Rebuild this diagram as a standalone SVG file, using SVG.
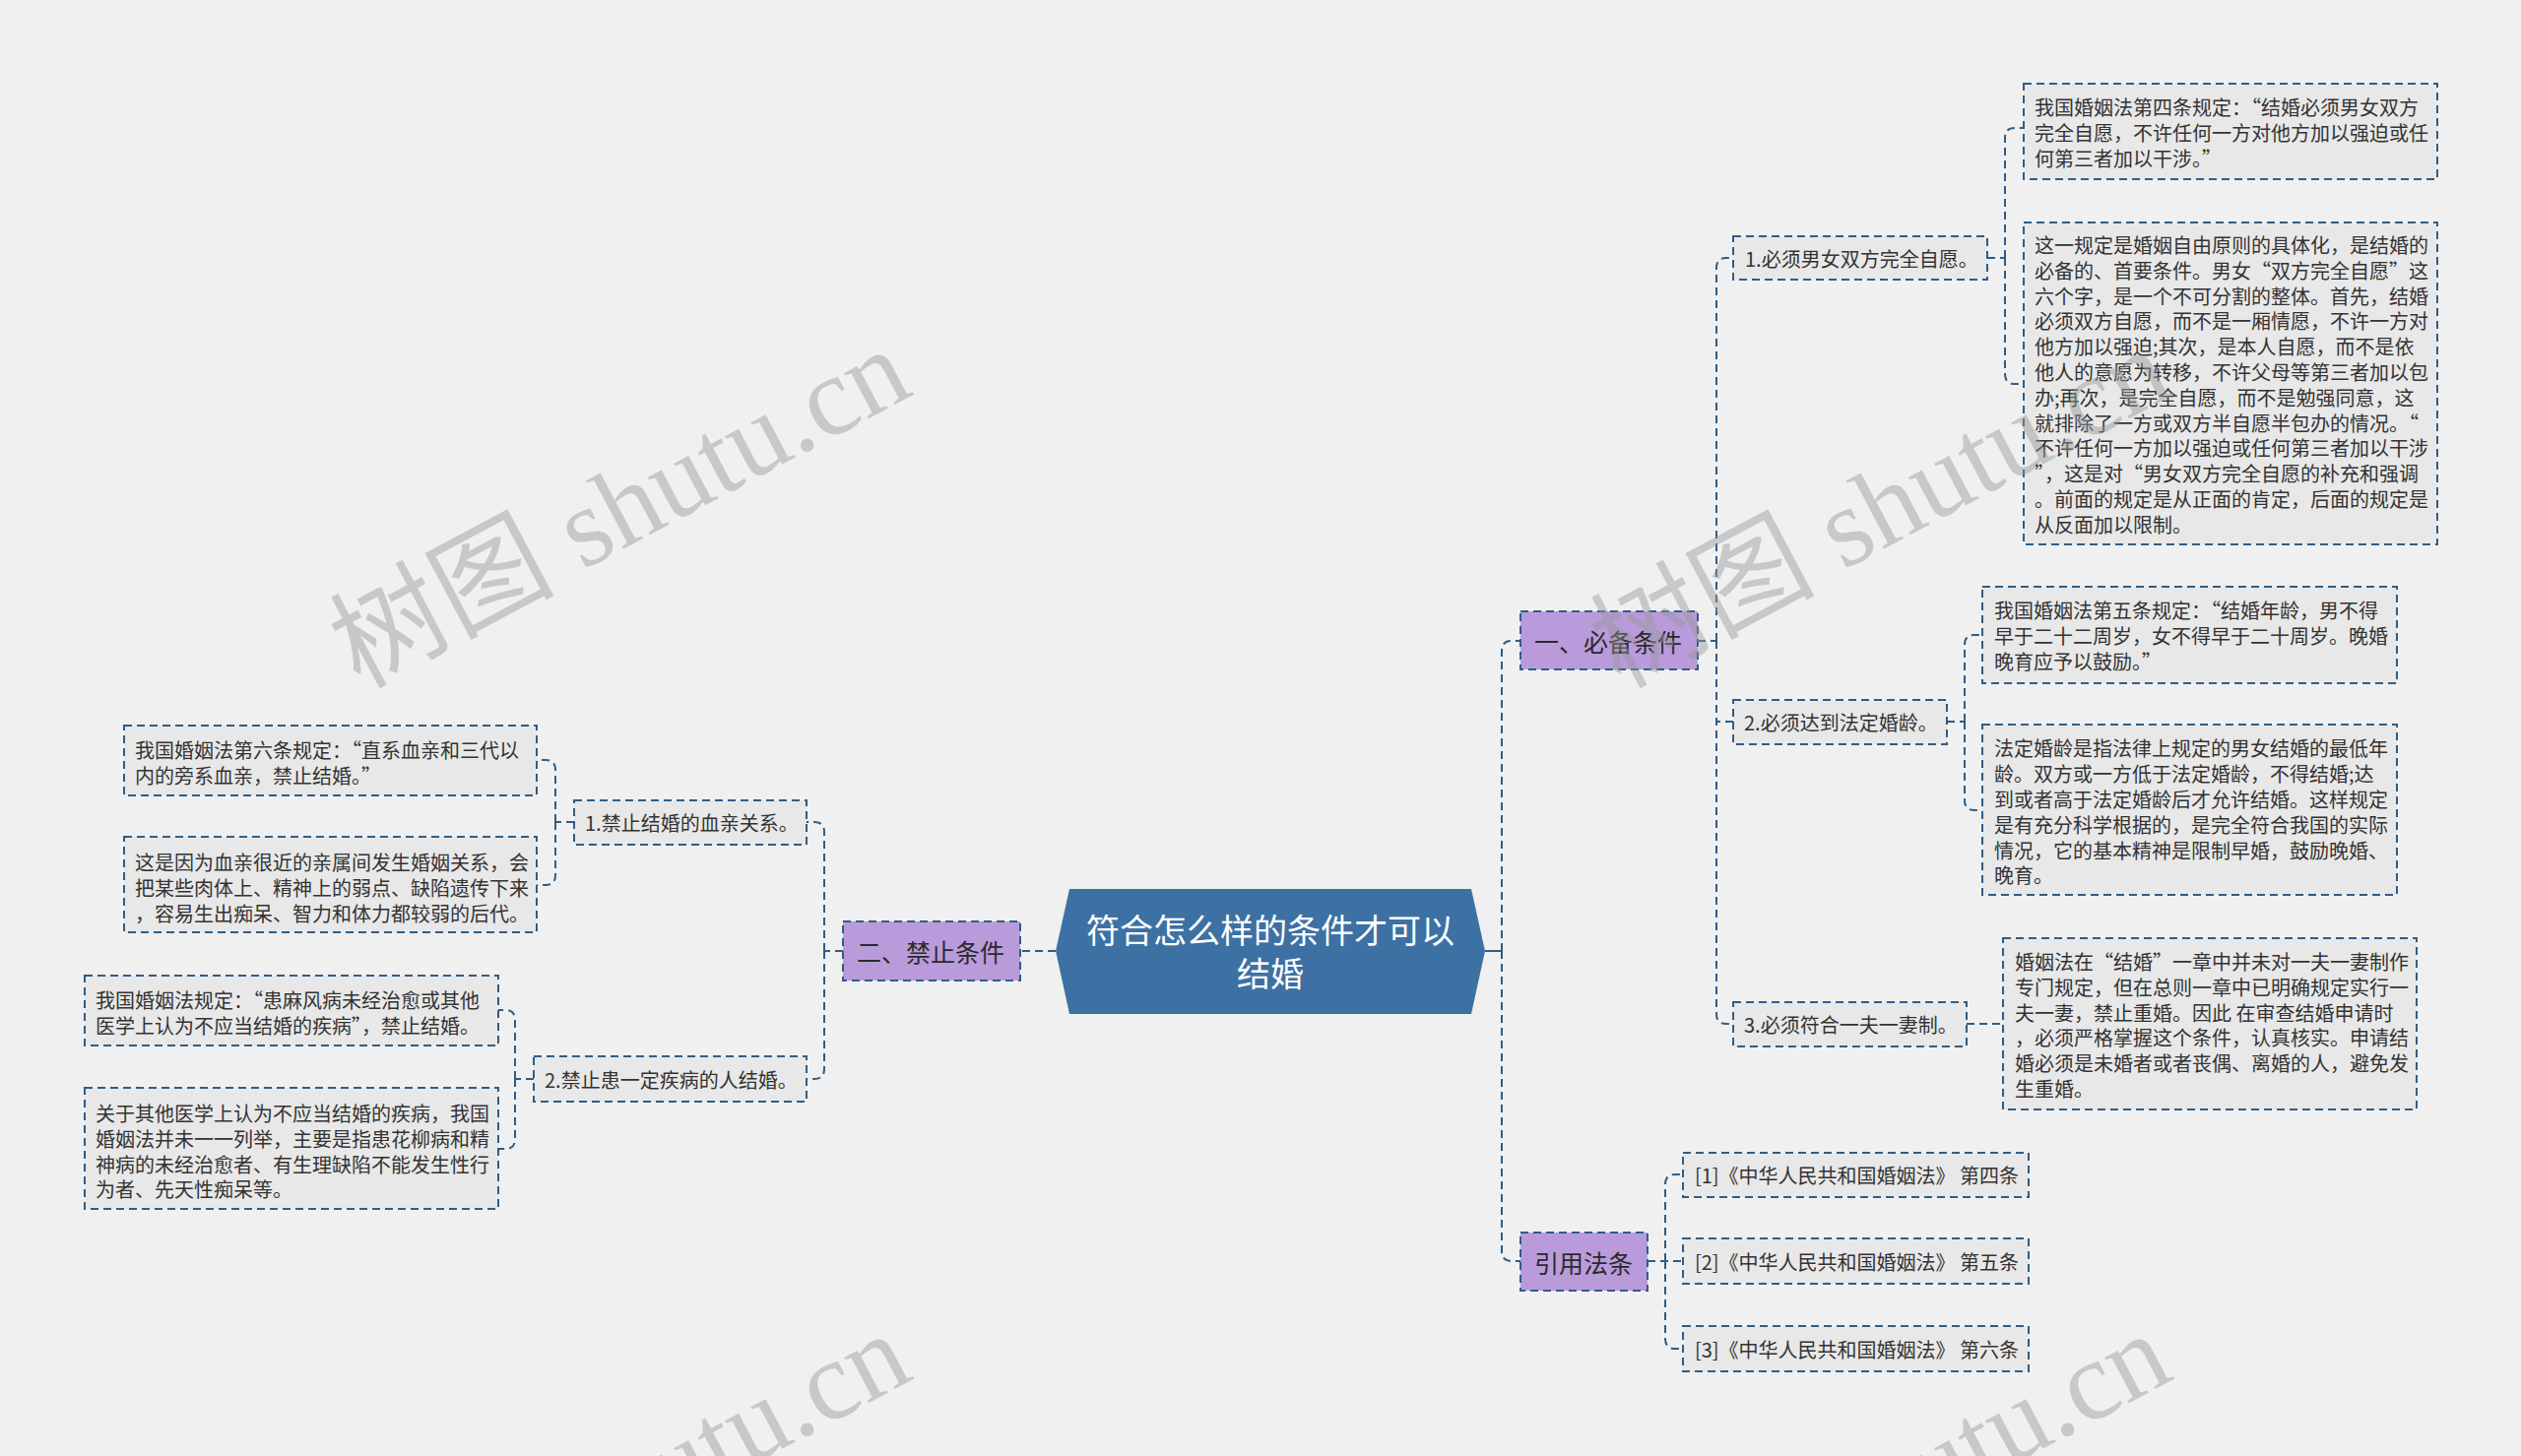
<svg xmlns="http://www.w3.org/2000/svg" width="2560" height="1479" viewBox="0 0 2560 1479">
<style>
.bg{fill:#f0f0f0}
.conn{fill:none;stroke:#2f5d85;stroke-width:2;stroke-dasharray:8 5}
.box{fill:#e8e8e8;stroke:#2f5d85;stroke-width:2;stroke-dasharray:8 5}
.cat{fill:#b99bdb;stroke:#2f5d85;stroke-width:2;stroke-dasharray:8 5}
.t{font-family:"Noto Sans CJK SC","Microsoft YaHei",sans-serif;font-size:20px;fill:#333333}
.ct{font-family:"Noto Sans CJK SC","Microsoft YaHei",sans-serif;font-size:25px;fill:#2a2a2a}
.mt{font-family:"Noto Sans CJK SC","Microsoft YaHei",sans-serif;font-size:34px;fill:#ffffff}
.wm{font-family:"Liberation Serif","Noto Sans CJK SC",serif;font-size:114px;fill:#969696;fill-opacity:0.45}
</style>
<rect class="bg" x="0" y="0" width="2560" height="1479"/>

<g id="connectors">
<!-- right side -->
<path class="conn" style="stroke-dasharray:none" d="M1508,966 H1525"/>
<path class="conn" d="M1525,966 V661 Q1525,651 1535,651 H1544"/>
<path class="conn" d="M1525,966 V1271 Q1525,1281 1535,1281 H1544"/>
<path class="conn" d="M1724,651 H1743"/>
<path class="conn" d="M1743,651 V272 Q1743,262 1753,262 H1760"/>
<path class="conn" d="M1743,651 V733 H1760"/>
<path class="conn" d="M1743,651 V1030 Q1743,1040 1753,1040 H1760"/>
<path class="conn" d="M2018,262 H2036"/>
<path class="conn" d="M2036,262 V140 Q2036,130 2046,130 H2055"/>
<path class="conn" d="M2036,262 V380 Q2036,390 2046,390 H2055"/>
<path class="conn" d="M1977,733 H1995"/>
<path class="conn" d="M1995,733 V655 Q1995,645 2005,645 H2013"/>
<path class="conn" d="M1995,733 V813 Q1995,823 2005,823 H2013"/>
<path class="conn" d="M1997,1040 H2034"/>
<path class="conn" d="M1673,1281 H1709"/>
<path class="conn" d="M1691,1281 V1203 Q1691,1193 1701,1193 H1709"/>
<path class="conn" d="M1691,1281 V1360 Q1691,1370 1701,1370 H1709"/>
<!-- left side -->
<path class="conn" d="M1072,966 H1036"/>
<path class="conn" d="M856,966 H837"/>
<path class="conn" d="M837,966 V845 Q837,835 827,835 H819"/>
<path class="conn" d="M837,966 V1086 Q837,1096 827,1096 H819"/>
<path class="conn" d="M583,835 H564"/>
<path class="conn" d="M564,835 V782 Q564,772 554,772 H545"/>
<path class="conn" d="M564,835 V889 Q564,899 554,899 H545"/>
<path class="conn" d="M542,1096 H523"/>
<path class="conn" d="M523,1096 V1036 Q523,1026 513,1026 H506"/>
<path class="conn" d="M523,1096 V1157 Q523,1167 513,1167 H506"/>
</g>

<g id="root">
<polygon points="1086,903 1494,903 1508,966 1494,1030 1086,1030 1072,966" fill="#3d71a3"/>
<text class="mt" text-anchor="middle" dominant-baseline="central"><tspan x="1290" y="943">符合怎么样的条件才可以</tspan><tspan x="1290" y="987">结婚</tspan></text>
</g>

<g id="n-bibei">
<rect class="cat" x="1544" y="621" width="180" height="59"/>
<text class="ct" x="1558" y="651" dominant-baseline="central">一、必备条件</text>
</g>
<g id="n-yinyong">
<rect class="cat" x="1544" y="1252" width="129" height="59"/>
<text class="ct" x="1558" y="1282" dominant-baseline="central">引用法条</text>
</g>
<g id="n-jinzhi">
<rect class="cat" x="856" y="936" width="180" height="60"/>
<text class="ct" x="870" y="966" dominant-baseline="central">二、禁止条件</text>
</g>

<g id="n-r1">
<rect class="box" x="1760" y="240" width="258" height="44"/>
<text class="t" x="1772" y="262" dominant-baseline="central">1.必须男女双方完全自愿。</text>
</g>
<g id="n-r2">
<rect class="box" x="1760" y="711" width="217" height="45"/>
<text class="t" x="1771" y="733" dominant-baseline="central">2.必须达到法定婚龄。</text>
</g>
<g id="n-r3">
<rect class="box" x="1760" y="1018" width="237" height="45"/>
<text class="t" x="1771" y="1040" dominant-baseline="central">3.必须符合一夫一妻制。</text>
</g>

<g id="n-r1a">
<rect class="box" x="2055" y="85" width="420" height="97"/>
<text class="t" dominant-baseline="central"><tspan x="2066" y="108">我国婚姻法第四条规定：“结婚必须男女双方</tspan><tspan x="2066" y="134">完全自愿，不许任何一方对他方加以强迫或任</tspan><tspan x="2066" y="160">何第三者加以干涉。”</tspan></text>
</g>
<g id="n-r1b">
<rect class="box" x="2055" y="226" width="420" height="327"/>
<text class="t" dominant-baseline="central"><tspan x="2066" y="248">这一规定是婚姻自由原则的具体化，是结婚的</tspan><tspan x="2066" y="274">必备的、首要条件。男女“双方完全自愿”这</tspan><tspan x="2066" y="300">六个字，是一个不可分割的整体。首先，结婚</tspan><tspan x="2066" y="325">必须双方自愿，而不是一厢情愿，不许一方对</tspan><tspan x="2066" y="351">他方加以强迫;其次，是本人自愿，而不是依</tspan><tspan x="2066" y="377">他人的意愿为转移，不许父母等第三者加以包</tspan><tspan x="2066" y="403">办;再次，是完全自愿，而不是勉强同意，这</tspan><tspan x="2066" y="429">就排除了一方或双方半自愿半包办的情况。“</tspan><tspan x="2066" y="454">不许任何一方加以强迫或任何第三者加以干涉</tspan><tspan x="2066" y="480">”，这是对“男女双方完全自愿的补充和强调</tspan><tspan x="2066" y="506">。前面的规定是从正面的肯定，后面的规定是</tspan><tspan x="2066" y="532">从反面加以限制。</tspan></text>
</g>
<g id="n-r2a">
<rect class="box" x="2013" y="596" width="421" height="98"/>
<text class="t" dominant-baseline="central"><tspan x="2025" y="619">我国婚姻法第五条规定：“结婚年龄，男不得</tspan><tspan x="2025" y="645">早于二十二周岁，女不得早于二十周岁。晚婚</tspan><tspan x="2025" y="671">晚育应予以鼓励。”</tspan></text>
</g>
<g id="n-r2b">
<rect class="box" x="2013" y="736" width="421" height="173"/>
<text class="t" dominant-baseline="central"><tspan x="2025" y="759">法定婚龄是指法律上规定的男女结婚的最低年</tspan><tspan x="2025" y="785">龄。双方或一方低于法定婚龄，不得结婚;达</tspan><tspan x="2025" y="811">到或者高于法定婚龄后才允许结婚。这样规定</tspan><tspan x="2025" y="837">是有充分科学根据的，是完全符合我国的实际</tspan><tspan x="2025" y="863">情况，它的基本精神是限制早婚，鼓励晚婚、</tspan><tspan x="2025" y="888">晚育。</tspan></text>
</g>
<g id="n-r3a">
<rect class="box" x="2034" y="953" width="420" height="174"/>
<text class="t" dominant-baseline="central"><tspan x="2046" y="976">婚姻法在“结婚”一章中并未对一夫一妻制作</tspan><tspan x="2046" y="1002">专门规定，但在总则一章中已明确规定实行一</tspan><tspan x="2046" y="1028">夫一妻，禁止重婚。因此 在审查结婚申请时</tspan><tspan x="2046" y="1053">，必须严格掌握这个条件，认真核实。申请结</tspan><tspan x="2046" y="1079">婚必须是未婚者或者丧偶、离婚的人，避免发</tspan><tspan x="2046" y="1105">生重婚。</tspan></text>
</g>

<g id="n-ref1">
<rect class="box" x="1709" y="1171" width="351" height="45"/>
<text class="t" x="1721" y="1193" dominant-baseline="central">[1]《中华人民共和国婚姻法》 第四条</text>
</g>
<g id="n-ref2">
<rect class="box" x="1709" y="1258" width="351" height="46"/>
<text class="t" x="1721" y="1281" dominant-baseline="central">[2]《中华人民共和国婚姻法》 第五条</text>
</g>
<g id="n-ref3">
<rect class="box" x="1709" y="1347" width="351" height="46"/>
<text class="t" x="1721" y="1370" dominant-baseline="central">[3]《中华人民共和国婚姻法》 第六条</text>
</g>

<g id="n-l1">
<rect class="box" x="583" y="813" width="236" height="45"/>
<text class="t" x="594" y="835" dominant-baseline="central">1.禁止结婚的血亲关系。</text>
</g>
<g id="n-l2">
<rect class="box" x="542" y="1073" width="277" height="46"/>
<text class="t" x="553" y="1096" dominant-baseline="central">2.禁止患一定疾病的人结婚。</text>
</g>
<g id="n-l1a">
<rect class="box" x="126" y="737" width="419" height="71"/>
<text class="t" dominant-baseline="central"><tspan x="137" y="761">我国婚姻法第六条规定：“直系血亲和三代以</tspan><tspan x="137" y="787">内的旁系血亲，禁止结婚。”</tspan></text>
</g>
<g id="n-l1b">
<rect class="box" x="126" y="850" width="419" height="97"/>
<text class="t" dominant-baseline="central"><tspan x="137" y="875">这是因为血亲很近的亲属间发生婚姻关系，会</tspan><tspan x="137" y="901">把某些肉体上、精神上的弱点、缺陷遗传下来</tspan><tspan x="137" y="927">，容易生出痴呆、智力和体力都较弱的后代。</tspan></text>
</g>
<g id="n-l2a">
<rect class="box" x="86" y="991" width="420" height="71"/>
<text class="t" dominant-baseline="central"><tspan x="97" y="1015">我国婚姻法规定：“患麻风病未经治愈或其他</tspan><tspan x="97" y="1041">医学上认为不应当结婚的疾病”，禁止结婚。</tspan></text>
</g>
<g id="n-l2b">
<rect class="box" x="86" y="1105" width="420" height="123"/>
<text class="t" dominant-baseline="central"><tspan x="97" y="1130">关于其他医学上认为不应当结婚的疾病，我国</tspan><tspan x="97" y="1156">婚姻法并未一一列举，主要是指患花柳病和精</tspan><tspan x="97" y="1182">神病的未经治愈者、有生理缺陷不能发生性行</tspan><tspan x="97" y="1207">为者、先天性痴呆等。</tspan></text>
</g>

<g id="watermarks">
<text class="wm" transform="translate(365,700) rotate(-28)">树图 shutu.cn</text>
<text class="wm" transform="translate(1645,700) rotate(-28)">树图 shutu.cn</text>
<text class="wm" transform="translate(365,1700) rotate(-28)">树图 shutu.cn</text>
<text class="wm" transform="translate(1645,1700) rotate(-28)">树图 shutu.cn</text>
</g>
</svg>
